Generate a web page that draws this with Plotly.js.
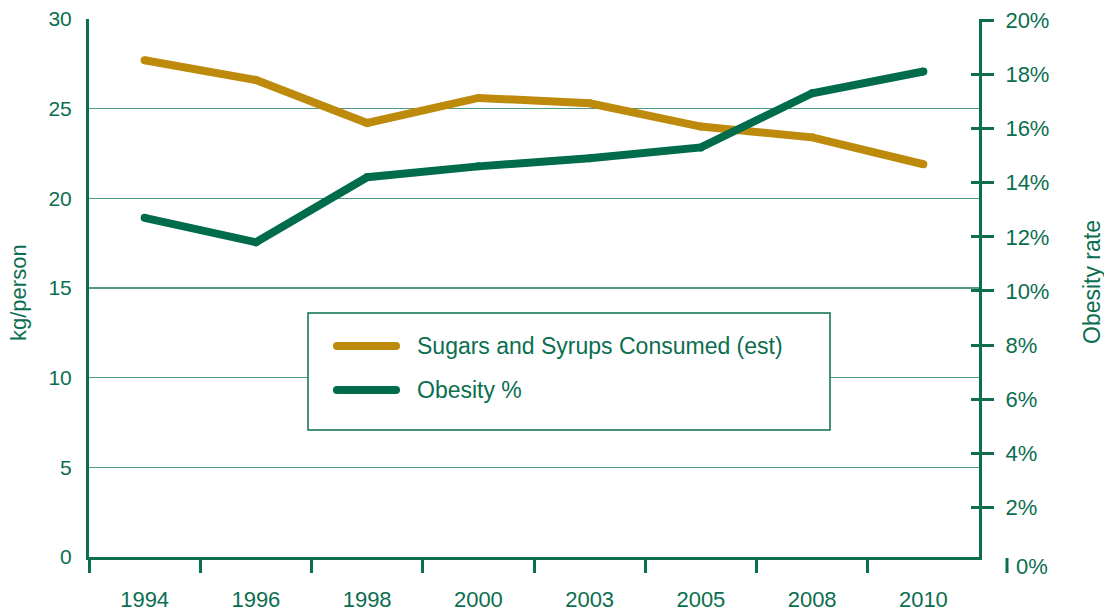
<!DOCTYPE html>
<html>
<head>
<meta charset="utf-8">
<script src="https://cdn.plot.ly/plotly-3.0.1.min.js"></script>
<style>html,body{margin:0;padding:0;background:#fff;}#chart{width:1104px;height:611px;}</style>
</head>
<body>
<div id="chart"></div>
<script>
const years = ['1994','1996','1998','2000','2003','2005','2008','2010'];
const sugarKg = [27.7, 26.6, 24.2, 25.6, 25.3, 24.0, 23.4, 21.9];
const obesityPct = [12.7, 11.8, 14.2, 14.6, 14.9, 15.3, 17.3, 18.1];
const leftTicks = [0, 5, 10, 15, 20, 25, 30];
const rightTicks = [2, 4, 6, 8, 10, 12, 14, 16, 18, 20];
const sugarName = 'Sugars and Syrups Consumed (est)';
const obesityName = 'Obesity %';
const leftTitle = 'kg/person';
const rightTitle = 'Obesity rate';

const GREEN = '#0b6e4f';
const LINEGREEN = '#006c4b';
const GOLD = '#bd8a0b';
const GRID = '#4f9a80';
const FONT = 'Liberation Sans, Arial, sans-serif';

const traces = [
  {x: years, y: sugarKg, name: sugarName, type: 'scatter', mode: 'lines+markers',
   line: {color: GOLD, width: 8}, marker: {color: GOLD, size: 8}, xaxis: 'x', yaxis: 'y', showlegend: false, hoverinfo: 'skip'},
  {x: years, y: obesityPct, name: obesityName, type: 'scatter', mode: 'lines+markers',
   line: {color: LINEGREEN, width: 8}, marker: {color: LINEGREEN, size: 8}, xaxis: 'x', yaxis: 'y2', showlegend: false, hoverinfo: 'skip'}
];

const L = 89, R = 979, T = 19, B = 557, W = 890, H = 538;
const px = v => (v - L) / W;
const py = v => (B - v) / H;

function legendSample(yPix, color) {
  const r = 4, xa = 337, xb = 396;
  return [
    {type: 'line', xref: 'paper', yref: 'paper', x0: px(xa), x1: px(xb), y0: py(yPix), y1: py(yPix),
     line: {color: color, width: 8}, layer: 'above'},
    {type: 'circle', xref: 'paper', yref: 'paper', x0: px(xa - r), x1: px(xa + r), y0: py(yPix + r), y1: py(yPix - r),
     fillcolor: color, line: {width: 0}, layer: 'above'},
    {type: 'circle', xref: 'paper', yref: 'paper', x0: px(xb - r), x1: px(xb + r), y0: py(yPix + r), y1: py(yPix - r),
     fillcolor: color, line: {width: 0}, layer: 'above'}
  ];
}

const layout = {
  width: 1104, height: 611,
  margin: {l: L, r: 1104 - R, t: T, b: 611 - B, pad: 0},
  paper_bgcolor: '#fff', plot_bgcolor: '#fff',
  font: {family: FONT, size: 21, color: GREEN},
  showlegend: false,
  xaxis: {type: 'category', categoryarray: years, range: [-0.5, 7.5], showgrid: false, zeroline: false,
          showline: true, linecolor: GREEN, linewidth: 3, ticks: '', ticklabelstandoff: 21,
          tickfont: {size: 22, color: GREEN}, fixedrange: true},
  xaxis2: {overlaying: 'x', type: 'linear', range: [-0.5, 7.5], tickvals: [-0.5, 0.5, 1.5, 2.5, 3.5, 4.5, 5.5, 6.5],
           showticklabels: false, ticks: 'outside', ticklen: 15, tickwidth: 3, tickcolor: GREEN,
           showgrid: false, zeroline: false, showline: false, side: 'bottom', anchor: 'y'},
  yaxis: {range: [0, 30], tickvals: leftTicks, showgrid: true, gridcolor: GRID, gridwidth: 1.5,
          zeroline: false, showline: true, linecolor: GREEN, linewidth: 3, ticks: '',
          ticklabelstandoff: 10, tickfont: {size: 21, color: GREEN}, fixedrange: true},
  yaxis2: {overlaying: 'y', side: 'right', range: [0.18, 20.04], tickvals: rightTicks,
           ticktext: rightTicks.map(v => v + '%'), showgrid: false, zeroline: false,
           showline: true, linecolor: GREEN, linewidth: 3, ticks: 'outside', ticklen: 12, tickwidth: 3,
           tickcolor: GREEN, ticklabelstandoff: 7, tickfont: {size: 22, color: GREEN}, fixedrange: true},
  yaxis3: {overlaying: 'y', side: 'right', anchor: 'x2', range: [0.18, 20.04], tickvals: rightTicks.slice(0, -1),
           showticklabels: false, ticks: 'inside', ticklen: 8, tickwidth: 3, tickcolor: GREEN,
           showgrid: false, zeroline: false, showline: false},
  shapes: [
    {type: 'rect', xref: 'paper', yref: 'paper', x0: px(308), x1: px(830), y0: py(430), y1: py(313),
     fillcolor: '#fff', line: {color: GREEN, width: 1.5}, layer: 'above'},
    ...legendSample(346, GOLD),
    ...legendSample(390, LINEGREEN),
    {type: 'line', xref: 'paper', yref: 'paper', x0: px(1007), x1: px(1007), y0: py(558), y1: py(573),
     line: {color: GREEN, width: 3}, layer: 'above'}
  ],
  annotations: [
    {xref: 'paper', yref: 'paper', x: px(415), y: py(346), xanchor: 'left', yanchor: 'middle',
     text: sugarName, showarrow: false, font: {size: 23, color: GREEN}},
    {xref: 'paper', yref: 'paper', x: px(415), y: py(390), xanchor: 'left', yanchor: 'middle',
     text: obesityName, showarrow: false, font: {size: 23, color: GREEN}},
    {xref: 'paper', yref: 'paper', x: px(1014), y: py(566), xanchor: 'left', yanchor: 'middle',
     text: '0%', showarrow: false, font: {size: 22, color: GREEN}},
    {xref: 'paper', yref: 'paper', x: px(18), y: py(293), xanchor: 'center', yanchor: 'middle',
     text: leftTitle, textangle: -90, showarrow: false, font: {size: 22, color: GREEN}},
    {xref: 'paper', yref: 'paper', x: px(1092), y: py(282), xanchor: 'center', yanchor: 'middle',
     text: rightTitle, textangle: -90, showarrow: false, font: {size: 23, color: GREEN}}
  ]
};

// dummy trace to activate xaxis2 / yaxis3
traces.push({x: [0], y: [null], xaxis: 'x2', yaxis: 'y3', type: 'scatter', mode: 'lines', showlegend: false, hoverinfo: 'skip'});

Plotly.newPlot('chart', traces, layout, {displayModeBar: false, staticPlot: true});
</script>
</body>
</html>
